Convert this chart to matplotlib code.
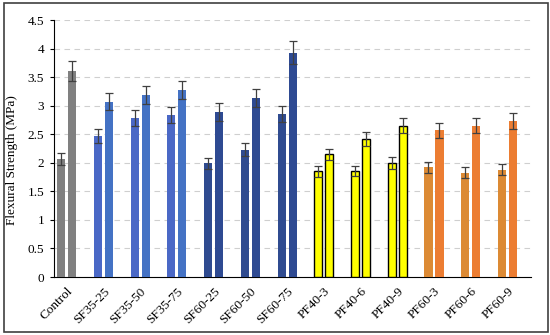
# Resistencia a flexión por mezcla
import numpy as np
import matplotlib.pyplot as plt

grupos = ["Control", "SF35-25", "SF35-50", "SF35-75", "SF60-25", "SF60-50", "SF60-75",
          "PF40-3", "PF40-6", "PF40-9", "PF60-3", "PF60-6", "PF60-9"]
valores_a = [2.07, 2.47, 2.79, 2.83, 1.99, 2.23, 2.85, 1.85, 1.86, 2.00, 1.92, 1.83, 1.88]
valores_b = [3.61, 3.07, 3.19, 3.28, 2.89, 3.13, 3.93, 2.15, 2.42, 2.65, 2.57, 2.65, 2.73]
error_a = [0.10, 0.12, 0.14, 0.14, 0.10, 0.11, 0.14, 0.09, 0.09, 0.10, 0.10, 0.09, 0.10]
error_b = [0.18, 0.15, 0.16, 0.16, 0.15, 0.16, 0.20, 0.10, 0.12, 0.13, 0.13, 0.13, 0.14]

colores_a = ["#808080"] + ["#4A68C6"] * 3 + ["#2F4B90"] * 3 + ["#FFFF00"] * 3 + ["#DC8A34"] * 3
colores_b = ["#808080"] + ["#4472C4"] * 3 + ["#2E4A92"] * 3 + ["#FFFF00"] * 3 + ["#EC7D32"] * 3
bordes = ["none"] * 7 + ["black"] * 3 + ["none"] * 3

plt.rcParams["font.family"] = "serif"
plt.rcParams["font.serif"] = ["Liberation Serif"]

fig = plt.figure(figsize=(5.5, 3.35), dpi=100)
ax = fig.add_axes([0.098, 0.173, 0.868, 0.767])

# Marco alrededor de la figura
fig.patches.append(plt.Rectangle((0.008, 0.008), 0.988, 0.983, transform=fig.transFigure,
                                 fill=False, edgecolor="#404040", linewidth=1.2))

x = np.arange(len(grupos))
ancho = 0.22
for i in range(len(grupos)):
    lw = 1.0 if bordes[i] != "none" else 0
    ax.bar(x[i] - 0.15, valores_a[i], ancho, color=colores_a[i], edgecolor=bordes[i], linewidth=lw,
           yerr=error_a[i], ecolor="#404040", capsize=3, error_kw={"elinewidth": 0.9, "capthick": 0.9},
           zorder=3)
    ax.bar(x[i] + 0.15, valores_b[i], ancho, color=colores_b[i], edgecolor=bordes[i], linewidth=lw,
           yerr=error_b[i], ecolor="#404040", capsize=3, error_kw={"elinewidth": 0.9, "capthick": 0.9},
           zorder=3)

ax.set_xlim(-0.35, len(grupos) - 0.35)
ax.set_ylim(0, 4.5)
ax.set_yticks(np.arange(0, 4.51, 0.5))
ax.set_yticklabels(["0", "0.5", "1", "1.5", "2", "2.5", "3", "3.5", "4", "4.5"], fontsize=9.5)
ax.set_xticks(x)
ax.set_xticklabels(grupos, rotation=45, ha="right", rotation_mode="anchor", fontsize=9.5)
ax.tick_params(axis="x", length=0, pad=6)
ax.tick_params(axis="y", length=3, direction="out", pad=4)
ax.set_ylabel("Flexural Strength (MPa)", fontsize=9.5)
ax.yaxis.set_label_coords(-0.075, 0.455)
ax.grid(axis="y", linestyle=(0, (5, 4)), color="#CFCFCF", linewidth=0.8, zorder=0)
ax.spines["top"].set_visible(False)
ax.spines["right"].set_visible(False)

plt.savefig("out.png", dpi=100)
plt.close()
